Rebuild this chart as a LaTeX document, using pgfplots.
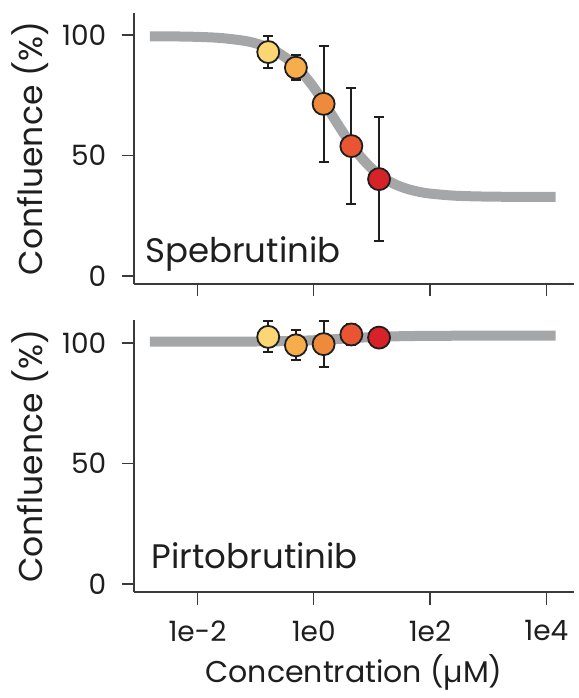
\documentclass[border=0pt]{standalone}
\usepackage{fontspec}
\setmainfont{Poppins}
\usepackage{pgfplots}
\usepackage{pgfplotstable}
\pgfplotsset{compat=1.18}

\definecolor{c1}{HTML}{FCD675}
\definecolor{c2}{HTML}{F6AD4B}
\definecolor{c3}{HTML}{F08A3B}
\definecolor{c4}{HTML}{E95532}
\definecolor{c5}{HTML}{D7222A}
\definecolor{curvegray}{HTML}{A4A6A8}
\definecolor{axgray}{HTML}{3A3A3A}
\definecolor{txt}{HTML}{1E1E1E}

\pgfplotstableread{
x y e c
0.165 92.9 6.5 a
0.494 86.4 5.3 b
1.48 71.4 24.2 c
4.44 53.9 24.0 d
13.3 40.2 25.7 e
}\spebdata

\pgfplotstableread{
x y e c
0.165 102.5 6.4 a
0.494 99.0 6.2 b
1.48 99.5 9.5 c
4.44 103.5 4.2 d
13.3 102.2 2.4 e
}\pirtdata

\pgfplotstableread{
x y
1.514e-3 99.45
3.981e-3 99.38
1e-2 99.19
2.512e-2 98.73
6.310e-2 97.59
0.1 96.52
0.1585 94.90
0.2512 92.49
0.3981 89.03
0.6310 84.30
1 78.25
1.585 71.11
2.512 63.47
3.981 56.11
6.310 49.68
10 44.55
15.85 40.73
25.12 38.03
39.81 36.20
63.10 34.99
100 34.20
251.2 33.36
631.0 33.03
1585 32.89
3981 32.84
14454 32.81
}\spebfit

\pgfplotstableread{
x y
1.514e-3 100.50
3.981e-3 100.50
1e-2 100.51
2.512e-2 100.52
6.310e-2 100.55
0.1 100.58
0.1585 100.62
0.2512 100.68
0.3981 100.78
0.6310 100.92
1 101.10
1.585 101.33
2.512 101.61
3.981 101.89
6.310 102.17
10 102.40
15.85 102.58
25.12 102.72
39.81 102.82
63.10 102.88
100 102.92
251.2 102.97
631.0 102.99
1585 103.0
3981 103.0
14454 103.0
}\pirtfit

\begin{document}
\begin{tikzpicture}
\path[use as bounding box] (0,0) rectangle (578pt,698pt);

\begin{axis}[at={(134pt,414pt)}, anchor=south west,
    xmode=log, scale only axis, width=440pt, height=271pt,
    xmin=8.1e-4, xmax=3e4, ymin=-3.3, ymax=109.1,
    axis x line*=bottom, axis y line*=left,
    axis line style={axgray, line width=1.4pt},
    tick style={axgray, line width=1.4pt},
    tick align=outside, major tick length=12.5pt,
    xtick={1e-2,1,1e2,1e4}, xticklabels={}, xminorticks=false,
    ytick={0,50,100}, yticklabels={0,50,100},
    tick label style={font=\fontsize{28}{32}\selectfont, text=txt},
    yticklabel style={inner sep=0pt, xshift=-15pt},
    ylabel={Confluence (\%)},
    ylabel style={font=\fontsize{33}{38}\selectfont, text=txt, at={(axis description cs:-0.209,0.5)}, anchor=base, inner sep=0pt},
    clip=false]
\addplot[curvegray, line width=10pt, smooth] table[x=x,y=y] {\spebfit};
\addplot[scatter, only marks, scatter src=explicit symbolic,
    scatter/classes={
      a={mark=*, fill=c1, draw=txt},
      b={mark=*, fill=c2, draw=txt},
      c={mark=*, fill=c3, draw=txt},
      d={mark=*, fill=c4, draw=txt},
      e={mark=*, fill=c5, draw=txt}},
    mark size=11pt, line width=1.8pt,
    error bars/.cd, y dir=both, y explicit,
    error bar style={draw=txt, line width=2pt, solid},
    error mark options={rotate=90, draw=txt, line width=2pt, mark size=5pt}]
    table[x=x,y=y,y error=e,meta=c] {\spebdata};
\node[anchor=base west, inner sep=0pt, font=\fontsize{34}{40}\selectfont, text=txt]
  at (axis description cs:0.025,0.081) {Spebrutinib};
\end{axis}

\begin{axis}[at={(134pt,106pt)}, anchor=south west,
    xmode=log, scale only axis, width=440pt, height=272pt,
    xmin=8.1e-4, xmax=3e4, ymin=-3.3, ymax=109.5,
    axis x line*=bottom, axis y line*=left,
    axis line style={axgray, line width=1.4pt},
    tick style={axgray, line width=1.4pt},
    tick align=outside, major tick length=12.5pt,
    xtick={1e-2,1,1e2,1e4}, xticklabels={1e-2,1e0,1e2,1e4}, xminorticks=false,
    ytick={0,50,100}, yticklabels={0,50,100},
    tick label style={font=\fontsize{28}{32}\selectfont, text=txt},
    yticklabel style={inner sep=0pt, xshift=-15pt},
    xticklabel style={inner sep=0pt, yshift=-16pt},
    ylabel={Confluence (\%)},
    ylabel style={font=\fontsize{33}{38}\selectfont, text=txt, at={(axis description cs:-0.209,0.5)}, anchor=base, inner sep=0pt},
    xlabel={Concentration (µM)},
    xlabel style={font=\fontsize{30}{36}\selectfont, text=txt, at={(axis description cs:0.5,-0.331)}, anchor=base, inner sep=0pt},
    clip=false]
\addplot[curvegray, line width=10pt, smooth] table[x=x,y=y] {\pirtfit};
\addplot[scatter, only marks, scatter src=explicit symbolic,
    scatter/classes={
      a={mark=*, fill=c1, draw=txt},
      b={mark=*, fill=c2, draw=txt},
      c={mark=*, fill=c3, draw=txt},
      d={mark=*, fill=c4, draw=txt},
      e={mark=*, fill=c5, draw=txt}},
    mark size=11pt, line width=1.8pt,
    error bars/.cd, y dir=both, y explicit,
    error bar style={draw=txt, line width=2pt, solid},
    error mark options={rotate=90, draw=txt, line width=2pt, mark size=5pt}]
    table[x=x,y=y,y error=e,meta=c] {\pirtdata};
\node[anchor=base west, inner sep=0pt, font=\fontsize{34}{40}\selectfont, text=txt]
  at (axis description cs:0.04,0.088) {Pirtobrutinib};
\end{axis}
\end{tikzpicture}
\end{document}
